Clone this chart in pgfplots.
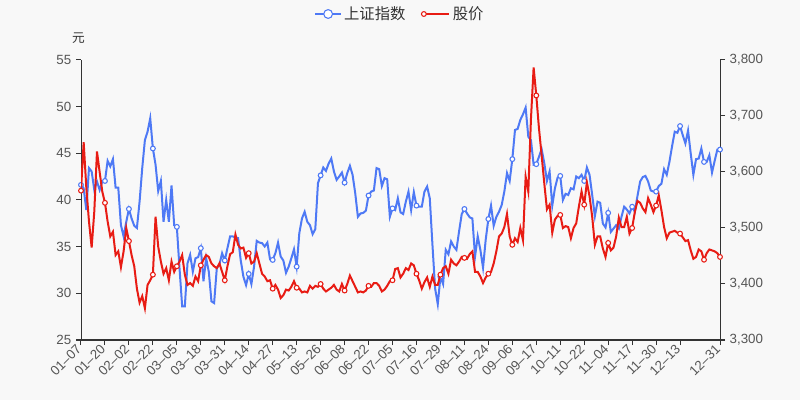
\documentclass[border=0pt]{standalone}
\usepackage{fontspec}
\setmainfont{Liberation Sans}
\newfontfamily\cjk{Noto Sans CJK SC}
\usepackage{pgfplots}
\usepackage{pgfplotstable}
\pgfplotsset{compat=1.18}

\definecolor{bg}{RGB}{248,248,248}
\definecolor{shblue}{RGB}{78,121,245}
\definecolor{gjred}{RGB}{232,28,20}
\definecolor{axc}{RGB}{51,51,51}
\definecolor{txt}{RGB}{85,85,85}

% d = trading day index, sh = index (right axis), gj = share price (left axis)
\pgfplotstableread{
d sh gj
0 3577 41.0
1 3571 46.2
2 3532 41.3
3 3607 37.7
4 3601 34.9
5 3568 38.8
6 3583 45.2
7 3568 43.0
8 3583 40.9
9 3584 39.7
10 3620 37.7
11 3610 36.1
12 3623 36.6
13 3572 34.1
14 3572 34.5
15 3505 32.8
16 3485 34.5
17 3511 37.0
18 3534 35.6
19 3517 34.1
20 3504 32.9
21 3500 30.5
22 3547 29.0
23 3607 29.7
24 3657 28.4
25 3672 30.9
26 3696 31.4
27 3642 32.0
28 3613 38.2
29 3566 35.0
30 3584 33.4
31 3511 32.1
32 3550 32.7
33 3511 31.4
34 3576 33.4
35 3505 32.3
36 3502 32.9
37 3428 33.4
38 3360 34.1
39 3360 32.0
40 3437 30.9
41 3452 31.1
42 3422 30.8
43 3446 31.8
44 3448 31.3
45 3464 33.0
46 3405 33.6
47 3446 34.1
48 3422 33.9
49 3369 33.2
50 3366 32.9
51 3428 32.7
52 3435 33.2
53 3455 32.3
54 3442 31.4
55 3464 32.9
56 3485 34.2
57 3485 34.4
58 3483 36.3
59 3482 35.2
60 3442 34.8
61 3413 34.9
62 3398 33.8
63 3418 34.3
64 3400 33.2
65 3431 33.4
66 3477 34.3
67 3474 33.2
68 3473 32.1
69 3467 31.8
70 3474 31.3
71 3444 31.4
72 3443 30.5
73 3455 30.9
74 3474 30.4
75 3449 29.5
76 3442 29.8
77 3420 30.4
78 3431 30.3
79 3446 30.7
80 3462 31.3
81 3431 30.6
82 3491 30.5
83 3517 30.1
84 3529 30.2
85 3511 30.1
86 3505 30.8
87 3489 30.5
88 3498 30.8
89 3580 30.7
90 3594 31.0
91 3608 30.5
92 3602 30.2
93 3615 30.4
94 3624 30.6
95 3601 30.9
96 3586 30.4
97 3592 30.2
98 3599 31.0
99 3581 30.3
100 3598 31.0
101 3611 31.9
102 3595 31.3
103 3562 30.7
104 3520 30.1
105 3526 30.2
106 3527 30.1
107 3531 30.3
108 3558 30.8
109 3565 30.7
110 3567 31.1
111 3607 31.1
112 3605 30.8
113 3575 30.2
114 3589 30.4
115 3587 30.8
116 3520 31.3
117 3535 31.4
118 3532 32.6
119 3553 32.7
120 3528 31.7
121 3525 32.1
122 3547 32.7
123 3565 32.5
124 3532 33.2
125 3564 33.0
126 3540 32.1
127 3538 31.4
128 3538 30.5
129 3565 31.2
130 3574 31.7
131 3553 30.7
132 3470 31.8
133 3392 30.9
134 3364 30.9
135 3413 32.0
136 3400 32.7
137 3461 32.9
138 3453 32.1
139 3476 33.6
140 3467 33.2
141 3461 33.0
142 3494 33.4
143 3525 33.9
144 3534 33.8
145 3526 33.7
146 3519 34.2
147 3517 34.5
148 3449 32.3
149 3485 32.3
150 3461 31.8
151 3429 31.1
152 3479 31.7
153 3516 32.1
154 3540 32.3
155 3504 33.2
156 3520 34.5
157 3529 36.1
158 3541 36.4
159 3565 37.1
160 3598 38.5
161 3584 36.1
162 3623 35.2
163 3675 35.9
164 3677 35.5
165 3693 37.0
166 3703 35.7
167 3715 42.5
168 3663 40.9
169 3657 48.7
170 3613 54.2
171 3614 51.2
172 3627 47.7
173 3641 44.8
174 3616 41.8
175 3584 39.0
176 3601 39.5
177 3540 36.5
178 3571 37.9
179 3590 38.3
180 3593 38.4
181 3550 37.0
182 3561 37.2
183 3559 37.1
184 3571 35.9
185 3569 37.0
186 3592 37.5
187 3589 39.3
188 3595 40.9
189 3584 39.5
190 3608 41.9
191 3595 40.4
192 3559 38.2
193 3521 35.2
194 3547 36.1
195 3545 36.1
196 3508 34.8
197 3501 33.9
198 3527 35.4
199 3493 34.6
200 3499 34.9
201 3505 36.1
202 3499 38.1
203 3520 37.1
204 3538 37.1
205 3533 38.2
206 3526 36.4
207 3538 37.0
208 3529 38.7
209 3557 39.9
210 3583 39.7
211 3591 39.1
212 3593 38.7
213 3583 40.2
214 3567 39.5
215 3565 38.7
216 3565 39.4
217 3575 40.5
218 3579 38.9
219 3605 37.1
220 3595 35.9
221 3618 36.5
222 3646 36.6
223 3672 36.7
224 3670 36.5
225 3682 36.4
226 3666 36.0
227 3651 35.6
228 3674 35.7
229 3633 34.6
230 3595 33.7
231 3623 33.9
232 3624 34.7
233 3642 34.5
234 3618 33.6
235 3618 34.3
236 3630 34.7
237 3599 34.6
238 3620 34.5
239 3640 34.3
240 3640 33.9
}\data

\begin{document}
\begin{tikzpicture}[x=1pt,y=1pt]
\fill[bg] (0,0) rectangle (600,300);
\useasboundingbox (0,0) rectangle (600,300);
\pgfplotsset{
  base/.style={
    scale only axis, width=479.25pt, height=210pt,
    at={(60.75pt,45pt)}, anchor=south west,
    xmin=0, xmax=240,
    tick align=outside, major tick length=3.75pt,
    every tick/.style={axc, line width=0.75pt},
    axis line style={axc, line width=0.75pt},
    ticklabel style={font=\fontsize{10}{11}\selectfont, text=txt},
    /pgf/number format/assume math mode=true,
  },
  shline/.style={shblue, line width=1.5pt, mark=*, mark size=1.8pt,
    mark options={fill=white, draw=shblue, line width=0.8pt}},
  gjline/.style={gjred, line width=1.5pt, mark=*, mark size=1.8pt,
    mark options={fill=white, draw=gjred, line width=0.8pt}},
}
\begin{axis}[base,
  axis y line*=right, axis x line*=bottom,
  ymin=3300, ymax=3800, ytick={3300,3400,...,3800},
  yticklabel style={/pgf/number format/.cd, 1000 sep={,}},
  xtick={0,9,...,225,240},
  xticklabels={01–07,01–20,02–02,02–22,03–05,03–18,03–31,04–14,04–27,05–13,05–26,06–08,06–22,07–05,07–16,07–29,08–11,08–24,09–06,09–17,10–11,10–22,11–04,11–17,11–30,12–13,12–31},
  xticklabel style={rotate=45, anchor=east, inner sep=2pt},
]
\addplot[shline, mark indices={1,10,...,235,241}] table[x=d,y=sh]{\data};
\end{axis}
\begin{axis}[base,
  axis y line*=left, axis x line=none,
  ymin=25, ymax=55, ytick={25,30,...,55},
  ylabel={\cjk 元},
  ylabel style={rotate=-90, at={(axis description cs:0,1)}, anchor=center,
    yshift=16.5pt, xshift=-2pt, font=\fontsize{9.5}{10}\selectfont, text=axc},
  legend style={draw=none, fill=none, legend columns=-1,
    at={(axis description cs:0.5,1)}, anchor=center, yshift=34.5pt,
    font=\cjk\fontsize{11.5}{12}\selectfont, text=axc,
    /tikz/every even column/.append style={column sep=10pt}},
  legend image code/.code={\draw[mark repeat=2, mark phase=2, #1]
    plot coordinates {(0pt,0pt) (9.5pt,0pt) (19pt,0pt)};},
]
\addlegendimage{shline, line width=1pt, mark size=3.3pt}
\addlegendentry{上证指数}
\addplot[gjline, mark indices={1,10,...,235,241}] table[x=d,y=gj]{\data};
\addlegendentry{股价}
\end{axis}
\end{tikzpicture}
\end{document}
